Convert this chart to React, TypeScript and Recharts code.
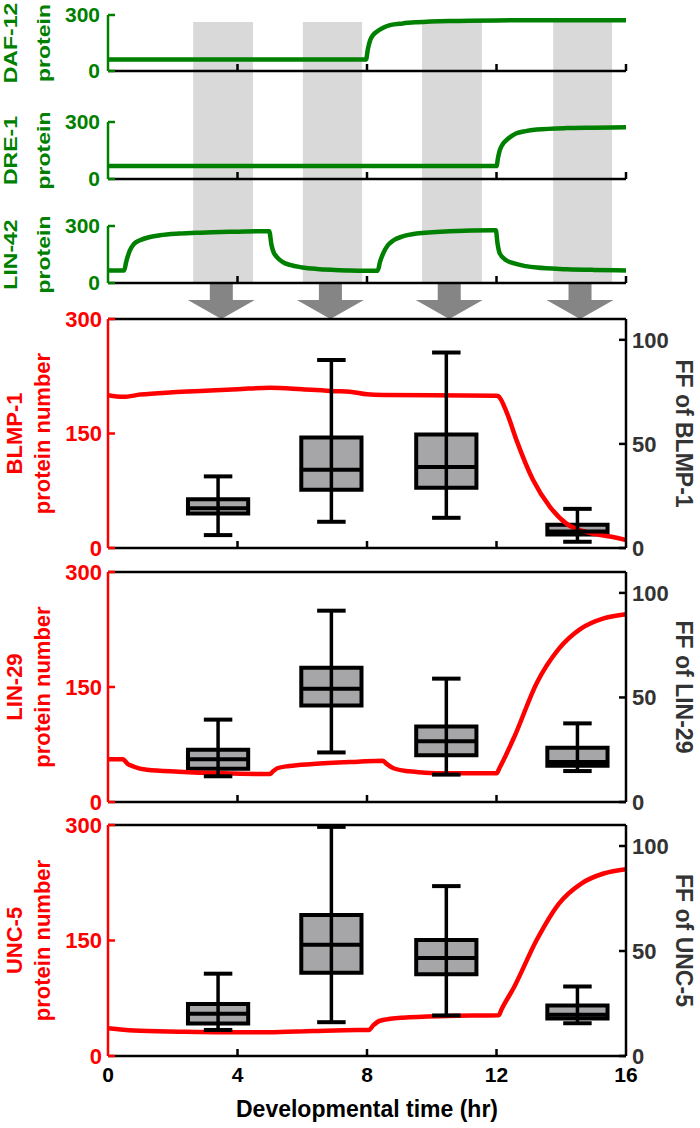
import React from "react";
import {
  ComposedChart,
  LineChart,
  Line,
  XAxis,
  YAxis,
  ReferenceArea,
  ReferenceLine,
  ReferenceDot,
} from "recharts";

const FONT = "'Liberation Sans', Arial, sans-serif";
const GREEN = "#008000";
const RED = "#ff0000";
const DARK = "#333333";
const BOX_FILL = "#a6a6a8";

// shaded windows and arrows (hr)
const windowStart = [2.63, 6.02, 9.7, 13.75];
const windowEnd = [4.48, 7.85, 11.55, 15.57];
const arrowTime = [3.5, 6.87, 10.54, 14.58];

// upstream regulators
const daf12Time = [0, 7.97, 8.03, 8.1, 8.2, 8.3, 8.5, 8.71, 9.1, 9.53, 10.56, 12, 14, 16];
const daf12Protein = [62, 62, 120, 166, 195, 210, 232, 246, 255, 261, 268, 271, 272, 272];

const dre1Time = [0, 12.0, 12.05, 12.1, 12.2, 12.3, 12.45, 12.6, 12.9, 13.24, 14.17, 15, 16];
const dre1Protein = [68, 68, 115, 151, 185, 203, 224, 239, 252, 260, 268, 270, 272];

const lin42Time = [
  0, 0.5, 0.56, 0.68, 0.8, 0.99, 1.3, 1.6, 2.2, 2.84, 4, 4.98, 5.05, 5.12, 5.21, 5.4, 5.62, 6.0,
  6.45, 7.0, 7.47, 8.0, 8.33, 8.4, 8.5, 8.65, 8.82, 9.1, 9.53, 10.56, 11.9, 11.98, 12.03, 12.1,
  12.3, 12.52, 12.9, 13.24, 14.17, 15, 16,
];
const lin42Protein = [
  66, 66, 110, 173, 205, 225, 242, 251, 260, 265, 270, 273, 200, 160, 138, 110, 95, 82, 74, 69,
  66, 65, 65, 110, 156, 200, 225, 245, 260, 272, 277, 277, 210, 156, 120, 104, 89, 81, 73, 69, 66,
];

// targets: protein number
const blmp1Time = [0, 0.47, 1, 2, 3, 4, 5, 6, 7, 7.47, 8, 8.5, 10, 12, 12.05, 12.33, 12.62, 13.13, 13.65, 14.16, 14.68, 15.2, 15.5, 16];
const blmp1Protein = [200, 198, 201, 204, 206, 208, 210, 208, 205.5, 204.8, 201.3, 200.4, 200, 199.6, 199, 176, 141, 89, 54, 32, 22, 17, 15, 10.5];

const lin29Time = [0, 0.46, 0.6, 0.8, 1.2, 2.19, 3.57, 5.0, 5.1, 5.23, 5.6, 6.33, 7.72, 8.48, 8.6, 8.82, 9.3, 9.79, 10.48, 12.0, 12.1, 12.55, 13.24, 13.93, 14.62, 15.31, 16];
const lin29Protein = [55.7, 55.7, 50, 46, 42, 39.5, 37.4, 36.5, 40, 44, 47, 49.6, 52.6, 53.9, 50, 44, 40, 38.3, 37.4, 37.4, 45, 85, 155, 200, 226.5, 239.6, 245];

const unc5Time = [0, 0.8, 2.19, 3.57, 4.96, 6.33, 7.72, 8.06, 8.2, 8.4, 9.1, 10.48, 12.07, 12.15, 12.55, 13.24, 13.93, 14.62, 15.31, 16];
const unc5Protein = [36, 33, 31.6, 30.8, 30.8, 32.5, 33.8, 33.8, 40, 45.8, 49.8, 52, 52.9, 60, 90, 150.6, 198, 224, 237, 242.5];

// Fano factor box plots
const boxTime = [3.4, 6.9, 10.45, 14.5];

const blmp1Min = [6.2, 12.6, 14.5, 3.0];
const blmp1Q1 = [16.6, 28.0, 28.9, 6.5];
const blmp1Median = [19.1, 37.6, 38.9, 7.9];
const blmp1Q3 = [23.4, 53.1, 54.5, 11.2];
const blmp1Max = [34.4, 90.3, 93.9, 18.8];

const lin29Min = [12.3, 23.7, 13.1, 14.8];
const lin29Q1 = [15.9, 46.2, 22.4, 17.3];
const lin29Median = [20.5, 54.2, 29.1, 19.1];
const lin29Q3 = [25.0, 64.2, 36.1, 26.0];
const lin29Max = [39.4, 91.5, 59.0, 37.6];

const unc5Min = [12.4, 16.1, 19.3, 15.6];
const unc5Q1 = [15.5, 39.7, 38.9, 17.8];
const unc5Median = [20.1, 53.0, 46.7, 19.6];
const unc5Q3 = [24.8, 67.1, 55.2, 24.1];
const unc5Max = [39.2, 109.1, 80.9, 33.1];

const toRows = (t: number[], v: number[]) => t.map((x, i) => ({ t: x, v: v[i] }));

const BOX_HALF = 0.93;
const CAP_HALF = 0.44;

function StackedLabel({ viewBox, lines, color, size, offsets, rotate, squash = 1 }: any) {
  const { x, y, height } = viewBox || { x: 0, y: 0, height: 0 };
  const cy = y + height / 2;
  return (
    <g>
      {lines.map((s: string, i: number) => (
        <text
          key={i}
          transform={`translate(${x + offsets[i]}, ${cy}) rotate(${rotate}) scale(1, ${squash})`}
          textAnchor="middle"
          fill={color}
          fontSize={size}
          fontWeight={700}
          fontFamily={FONT}
        >
          {s}
        </text>
      ))}
    </g>
  );
}

function Arrow({ cx, cy }: any) {
  const pts = [
    [cx - 11.5, cy + 1],
    [cx + 11.5, cy + 1],
    [cx + 11.5, cy + 17],
    [cx + 33.5, cy + 17],
    [cx, cy + 36],
    [cx - 33.5, cy + 17],
    [cx - 11.5, cy + 17],
  ]
    .map((p) => p.join(","))
    .join(" ");
  return <polygon points={pts} fill="#858585" />;
}

function Backdrop() {
  return (
    <div style={{ position: "absolute", left: 0, top: 0 }}>
      <ComposedChart
        width={700}
        height={323}
        data={[{ t: 0 }, { t: 16 }]}
        margin={{ top: 22, right: 74, bottom: 40, left: 108 }}
      >
        <XAxis dataKey="t" type="number" domain={[0, 16]} allowDataOverflow hide />
        <YAxis type="number" domain={[0, 1]} allowDataOverflow hide />
        {windowStart.map((s, i) => (
          <ReferenceArea
            key={`w${i}`}
            x1={s}
            x2={windowEnd[i]}
            fill="#d9d9d9"
            fillOpacity={1}
            stroke="none"
          />
        ))}
        {arrowTime.map((t, i) => (
          <ReferenceDot
            key={`a${i}`}
            x={t}
            y={0}
            r={0}
            shape={(p: any) => <Arrow cx={p.cx} cy={p.cy} />}
          />
        ))}
      </ComposedChart>
    </div>
  );
}

function RegulatorPanel({ top, mt, plotH, lines, rows }: any) {
  return (
    <div style={{ position: "absolute", left: 0, top }}>
      <LineChart
        width={700}
        height={mt + plotH + 20}
        data={rows}
        margin={{ top: mt, right: 74, bottom: 0, left: 0 }}
      >
        <XAxis
          dataKey="t"
          type="number"
          domain={[0, 16]}
          allowDataOverflow
          ticks={[4, 8, 12, 16]}
          interval={0}
          height={20}
          tickSize={-7}
          tickFormatter={() => ""}
          axisLine={{ stroke: "#000", strokeWidth: 2.5 }}
          tickLine={{ stroke: "#000", strokeWidth: 2.5 }}
        />
        <YAxis
          type="number"
          domain={[0, 300]}
          allowDataOverflow
          ticks={[0, 300]}
          interval={0}
          width={108}
          tickSize={-7}
          tickMargin={15}
          axisLine={{ stroke: GREEN, strokeWidth: 2.5 }}
          tickLine={{ stroke: GREEN, strokeWidth: 2.5 }}
          tick={{ fill: GREEN, fontSize: 21, fontWeight: 700, fontFamily: FONT }}
          label={(p: any) => (
            <StackedLabel
              viewBox={p.viewBox}
              lines={lines}
              color={GREEN}
              size={23}
              squash={0.78}
              offsets={[17, 50]}
              rotate={-90}
            />
          )}
        />
        <Line
          dataKey="v"
          type="monotone"
          stroke={GREEN}
          strokeWidth={4.5}
          dot={false}
          isAnimationActive={false}
        />
      </LineChart>
    </div>
  );
}

function XTick({ x, y, payload, showLabel }: any) {
  const v = payload.value;
  return (
    <g>
      {v > 0 && v < 16 && (
        <line x1={x} x2={x} y1={y} y2={y - 7} stroke="#000" strokeWidth={2.5} />
      )}
      {showLabel && (
        <text
          x={x}
          y={y + 26}
          textAnchor="middle"
          fill="#000"
          fontSize={21}
          fontWeight={700}
          fontFamily={FONT}
        >
          {v}
        </text>
      )}
    </g>
  );
}

function TargetPanel({ top, plotH, xH, name, rows, box, showX }: any) {
  const { min, q1, median, q3, max } = box;
  return (
    <div style={{ position: "absolute", left: 0, top }}>
      <ComposedChart
        width={700}
        height={19 + plotH + xH}
        data={rows}
        margin={{ top: 19, right: 0, bottom: 0, left: 0 }}
      >
        <XAxis
          dataKey="t"
          type="number"
          domain={[0, 16]}
          allowDataOverflow
          ticks={showX ? [0, 4, 8, 12, 16] : [4, 8, 12]}
          interval={0}
          height={xH}
          tickSize={0}
          tickMargin={0}
          tickLine={false}
          axisLine={{ stroke: "#000", strokeWidth: 2.5 }}
          tick={(p: any) => <XTick {...p} showLabel={showX} />}
          label={
            showX
              ? (p: any) => (
                  <text
                    x={p.viewBox.x + p.viewBox.width / 2}
                    y={p.viewBox.y + 61}
                    textAnchor="middle"
                    fill="#000"
                    fontSize={23}
                    fontWeight={700}
                    fontFamily={FONT}
                  >
                    Developmental time (hr)
                  </text>
                )
              : undefined
          }
        />
        <YAxis
          yAxisId="left"
          type="number"
          domain={[0, 300]}
          allowDataOverflow
          ticks={[0, 150, 300]}
          interval={0}
          width={108}
          tickSize={-7}
          tickMargin={13}
          axisLine={{ stroke: RED, strokeWidth: 2.5 }}
          tickLine={{ stroke: RED, strokeWidth: 2.5 }}
          tick={{ fill: RED, fontSize: 22, fontWeight: 700, fontFamily: FONT }}
          label={(p: any) => (
            <StackedLabel
              viewBox={p.viewBox}
              lines={[name, "protein number"]}
              color={RED}
              size={22}
              offsets={[21.5, 50]}
              rotate={-90}
            />
          )}
        />
        <YAxis
          yAxisId="right"
          orientation="right"
          type="number"
          domain={[0, 110]}
          allowDataOverflow
          ticks={[0, 50, 100]}
          interval={0}
          width={74}
          tickSize={-7}
          tickMargin={13}
          axisLine={{ stroke: "#000", strokeWidth: 2.5 }}
          tickLine={{ stroke: "#000", strokeWidth: 2.5 }}
          tick={{ fill: DARK, fontSize: 22, fontWeight: 700, fontFamily: FONT }}
          label={(p: any) => (
            <StackedLabel
              viewBox={p.viewBox}
              lines={[`FF of ${name}`]}
              color={DARK}
              size={23}
              offsets={[50]}
              rotate={90}
            />
          )}
        />
        <ReferenceLine yAxisId="left" y={300} stroke="#000" strokeWidth={2.5} />
        <Line
          yAxisId="left"
          dataKey="v"
          type="monotone"
          stroke={RED}
          strokeWidth={4.5}
          dot={false}
          isAnimationActive={false}
        />
        {boxTime.map((c, i) => (
          <React.Fragment key={`b${i}`}>
            <ReferenceLine
              yAxisId="right"
              segment={[
                { x: c, y: min[i] },
                { x: c, y: max[i] },
              ]}
              stroke="#000"
              strokeWidth={3.5}
            />
            <ReferenceLine
              yAxisId="right"
              segment={[
                { x: c - CAP_HALF, y: max[i] },
                { x: c + CAP_HALF, y: max[i] },
              ]}
              stroke="#000"
              strokeWidth={4}
            />
            <ReferenceLine
              yAxisId="right"
              segment={[
                { x: c - CAP_HALF, y: min[i] },
                { x: c + CAP_HALF, y: min[i] },
              ]}
              stroke="#000"
              strokeWidth={4}
            />
            <ReferenceArea
              yAxisId="right"
              x1={c - BOX_HALF}
              x2={c + BOX_HALF}
              y1={q1[i]}
              y2={q3[i]}
              fill={BOX_FILL}
              fillOpacity={1}
              stroke="#000"
              strokeWidth={4}
            />
            <ReferenceLine
              yAxisId="right"
              segment={[
                { x: c - BOX_HALF, y: median[i] },
                { x: c + BOX_HALF, y: median[i] },
              ]}
              stroke="#000"
              strokeWidth={4}
            />
          </React.Fragment>
        ))}
      </ComposedChart>
    </div>
  );
}

export default function App() {
  return (
    <div
      style={{
        position: "absolute",
        left: 0,
        top: 0,
        width: 700,
        height: 1128,
        background: "#fff",
        overflow: "hidden",
      }}
    >
      <Backdrop />
      <RegulatorPanel top={0} mt={15} plotH={56} lines={["DAF-12", "protein"]} rows={toRows(daf12Time, daf12Protein)} />
      <RegulatorPanel top={100} mt={22} plotH={57} lines={["DRE-1", "protein"]} rows={toRows(dre1Time, dre1Protein)} />
      <RegulatorPanel top={205} mt={21} plotH={57} lines={["LIN-42", "protein"]} rows={toRows(lin42Time, lin42Protein)} />
      <TargetPanel
        top={300}
        plotH={229}
        xH={16}
        name="BLMP-1"
        rows={toRows(blmp1Time, blmp1Protein)}
        box={{ min: blmp1Min, q1: blmp1Q1, median: blmp1Median, q3: blmp1Q3, max: blmp1Max }}
        showX={false}
      />
      <TargetPanel
        top={553}
        plotH={230}
        xH={16}
        name="LIN-29"
        rows={toRows(lin29Time, lin29Protein)}
        box={{ min: lin29Min, q1: lin29Q1, median: lin29Median, q3: lin29Q3, max: lin29Max }}
        showX={false}
      />
      <TargetPanel
        top={806}
        plotH={231}
        xH={72}
        name="UNC-5"
        rows={toRows(unc5Time, unc5Protein)}
        box={{ min: unc5Min, q1: unc5Q1, median: unc5Median, q3: unc5Q3, max: unc5Max }}
        showX={true}
      />
    </div>
  );
}
